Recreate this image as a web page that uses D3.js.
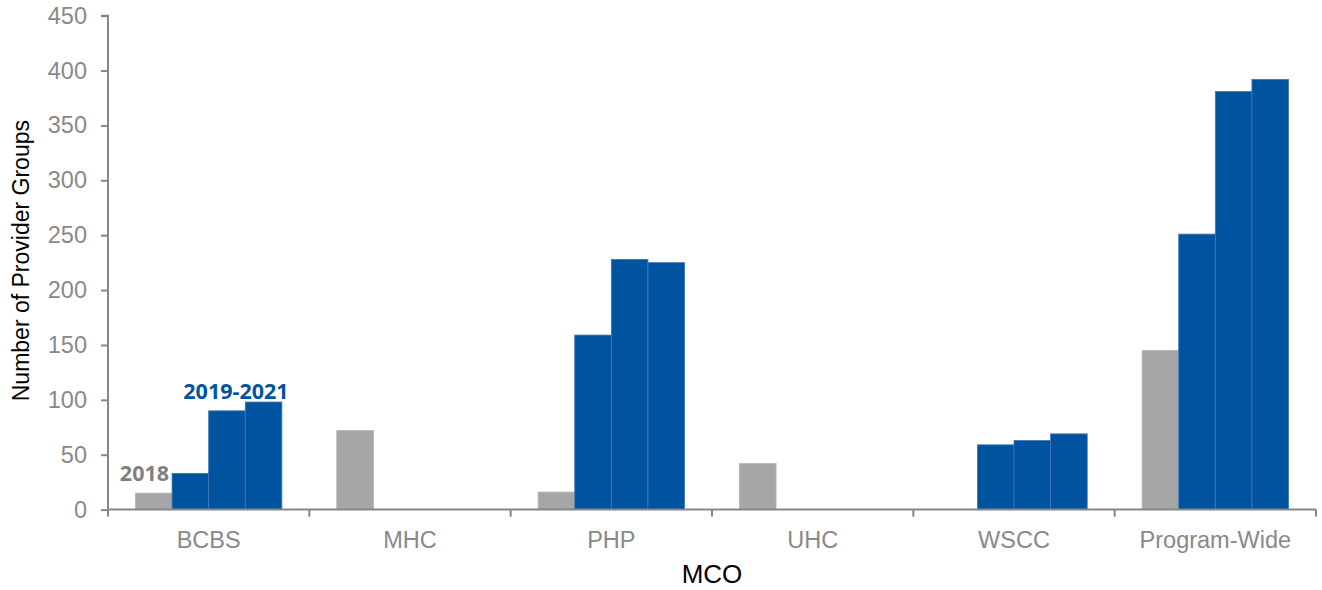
<!DOCTYPE html>
<html>
<head>
<meta charset="utf-8">
<script src="https://cdn.jsdelivr.net/npm/d3@7"></script>
<style>
  body { margin: 0; background: #fff; }
  svg text { font-family: "Liberation Sans", Arial, sans-serif; }
</style>
</head>
<body>
<div id="chart"></div>
<script>
// categories and series
var categories = ["BCBS", "MHC", "PHP", "UHC", "WSCC", "Program-Wide"];
var years = ["2018", "2019", "2020", "2021"];
var values2018 = [15, 72, 16, 42, null, 145];
var values2019 = [33, null, 159, null, 59, 251];
var values2020 = [90, null, 228, null, 63, 381];
var values2021 = [98, null, 225, null, 69, 392];
var yTicks = [0, 50, 100, 150, 200, 250, 300, 350, 400, 450];

var series = [values2018, values2019, values2020, values2021];

var width = 1322, height = 590;
// plot edges (note: "top" is a reserved window global, so use plot* names)
var plotLeft = 108, plotRight = 1316, plotTop = 15.7, plotBottom = 509.6;

var svg = d3.select("#chart").append("svg")
	.attr("width", width)
	.attr("height", height);

var x0 = d3.scaleBand().domain(categories).range([plotLeft, plotRight]);
var x1 = d3.scaleBand().domain(years).range([0, x0.bandwidth()])
	.paddingInner(0).paddingOuter(0.75);
var y = d3.scaleLinear().domain([0, 450]).range([plotBottom, plotTop]);

// build rows for the bars
var rows = [];
categories.forEach(function(c, i) {
	years.forEach(function(yr, j) {
		var v = series[j][i];
		if (v != null) rows.push({cat: c, year: yr, value: v});
	});
});

svg.append("g").selectAll("rect")
	.data(rows)
	.enter().append("rect")
	.attr("x", function(d) { return x0(d.cat) + x1(d.year); })
	.attr("y", function(d) { return y(d.value); })
	.attr("width", x1.bandwidth())
	.attr("height", function(d) { return y(0) - y(d.value); })
	.style("fill", function(d) { return d.year == "2018" ? "#A6A6A6" : "#00539F"; })
	.style("stroke", function(d) { return d.year == "2018" ? "#b4b4b4" : "#3f78b8"; })
	.style("stroke-width", 0.8);

// y axis
var yAxis = svg.append("g")
	.attr("transform", "translate(" + plotLeft + ",0)")
	.call(d3.axisLeft(y).tickValues(yTicks).tickSize(7).tickPadding(14));
yAxis.select(".domain").attr("stroke", "#868686").attr("stroke-width", 2)
	.attr("d", "M-7," + plotTop + "H0V" + plotBottom);
yAxis.selectAll(".tick line").attr("stroke", "#868686").attr("stroke-width", 2);
yAxis.selectAll(".tick text").attr("fill", "#898989").style("font-size", "23.5px");

// x axis, ticks sit on the category borders
var xAxis = svg.append("g")
	.attr("transform", "translate(0," + plotBottom + ")");
xAxis.append("line")
	.attr("x1", plotLeft).attr("x2", plotRight)
	.attr("stroke", "#868686").attr("stroke-width", 2);
xAxis.selectAll(".xtick")
	.data(categories.concat(["end"]))
	.enter().append("line")
	.attr("class", "xtick")
	.attr("x1", function(d, i) { return plotLeft + i * x0.step(); })
	.attr("x2", function(d, i) { return plotLeft + i * x0.step(); })
	.attr("y1", 0).attr("y2", 7)
	.attr("stroke", "#868686").attr("stroke-width", 2);
xAxis.selectAll(".xlabel")
	.data(categories)
	.enter().append("text")
	.attr("class", "xlabel")
	.attr("x", function(d) { return x0(d) + x0.bandwidth() / 2; })
	.attr("y", 38.5)
	.attr("text-anchor", "middle")
	.attr("fill", "#898989")
	.style("font-size", "23.5px")
	.text(function(d) { return d; });

// axis titles
svg.append("text")
	.attr("x", (plotLeft + plotRight) / 2)
	.attr("y", 583)
	.attr("text-anchor", "middle")
	.attr("fill", "#000")
	.style("font-size", "26px")
	.text("MCO");

svg.append("text")
	.attr("transform", "translate(29," + ((plotTop + plotBottom) / 2 - 2) + ") rotate(-90)")
	.attr("text-anchor", "middle")
	.attr("fill", "#000")
	.style("font-size", "23px")
	.text("Number of Provider Groups");

// annotations
svg.append("text")
	.attr("x", x0("BCBS") + x1("2019") - 3)
	.attr("y", y(values2018[0]) - 12.5)
	.attr("text-anchor", "end")
	.attr("fill", "#7F7F7F")
	.style("font-family", "'Open Sans', sans-serif")
	.style("font-weight", "bold")
	.style("font-size", "21.5px")
	.text("2018");

svg.append("text")
	.attr("x", x0("BCBS") + x1("2020") + x1.bandwidth() / 2 + 9)
	.attr("y", y(values2021[0]) - 3)
	.attr("text-anchor", "middle")
	.attr("fill", "#0054A0")
	.style("font-family", "'Open Sans', sans-serif")
	.style("font-weight", "bold")
	.style("font-size", "21.5px")
	.text("2019-2021");
</script>
</body>
</html>
